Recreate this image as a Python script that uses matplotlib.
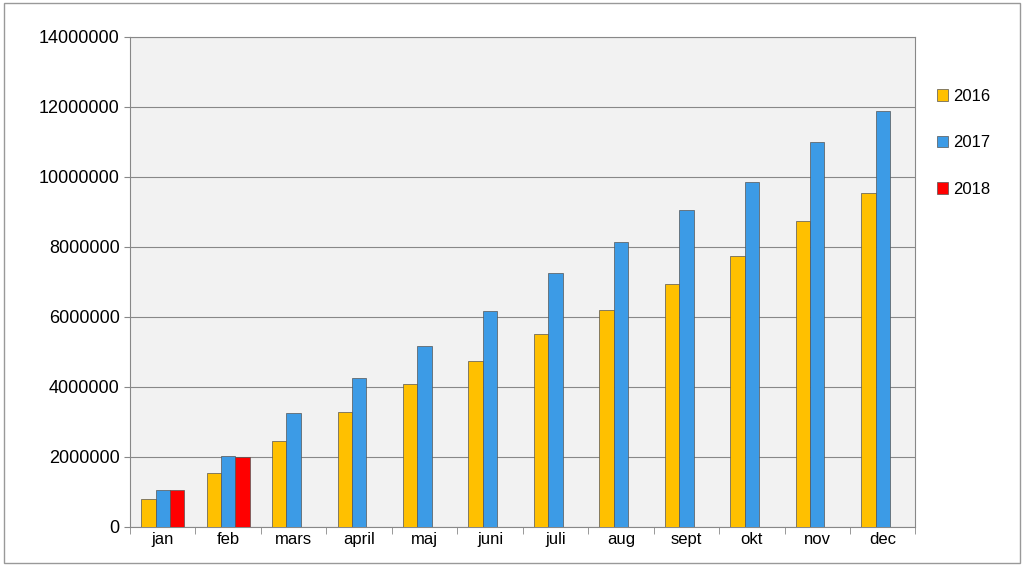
import numpy as np
import matplotlib.pyplot as plt
from matplotlib.patches import Rectangle

months = ['jan', 'feb', 'mars', 'april', 'maj', 'juni', 'juli', 'aug', 'sept', 'okt', 'nov', 'dec']
v2016 = [800000, 1550000, 2450000, 3270000, 4080000, 4750000, 5500000, 6200000, 6950000, 7750000, 8750000, 9550000]
v2017 = [1050000, 2030000, 3250000, 4250000, 5170000, 6180000, 7250000, 8150000, 9050000, 9850000, 11000000, 11870000]
v2018 = [1050000, 2000000]

fig = plt.figure(figsize=(10.24, 5.66), dpi=100)
fig.patches.append(Rectangle((0.004, 0.006), 0.992, 0.988, transform=fig.transFigure,
                             fill=False, edgecolor='#999999', linewidth=1))
ax = fig.add_axes([0.127, 0.069, 0.767, 0.866])
ax.set_facecolor('#F2F2F2')

x = np.arange(len(months))
w = 0.22
ax.bar(x - w, v2016, w, color='#FFC000', edgecolor='#555555', linewidth=0.5, label='2016', zorder=3)
ax.bar(x, v2017, w, color='#3C9BE6', edgecolor='#555555', linewidth=0.5, label='2017', zorder=3)
ax.bar(x[:len(v2018)] + w, v2018, w, color='#FF0000', edgecolor='#555555', linewidth=0.5, label='2018', zorder=3)

ax.set_xlim(-0.5, len(months) - 0.5)
ax.set_ylim(0, 14000000)
ax.set_yticks(np.arange(0, 14000001, 2000000))
ax.set_yticklabels([str(v) for v in range(0, 14000001, 2000000)], fontsize=13, fontname='Liberation Sans')
ax.set_xticks(x)
ax.set_xticklabels(months, fontsize=12, fontname='Liberation Sans')
ax.yaxis.grid(True, color='#888888', linewidth=0.8, zorder=0)
ax.tick_params(axis='both', length=4, color='#888888')
ax.set_xticks(np.arange(-0.5, len(months)), minor=True)
ax.tick_params(axis='x', which='major', length=0)
ax.tick_params(axis='x', which='minor', length=5, color='#888888')
for s in ax.spines.values():
    s.set_color('#888888')

fig.legend(loc='upper left', bbox_to_anchor=(0.9, 0.87), frameon=False,
           prop={'family': 'Liberation Sans', 'size': 12}, handlelength=0.7,
           handleheight=0.7, handletextpad=0.3, labelspacing=1.9)

fig.savefig('out.png', dpi=100)
